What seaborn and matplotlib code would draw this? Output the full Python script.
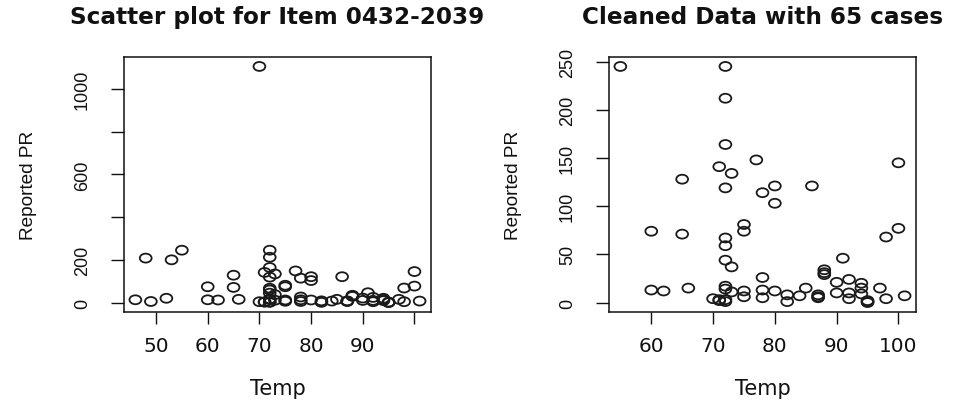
import numpy as np
import pandas as pd
import matplotlib
matplotlib.use("Agg")
import matplotlib.pyplot as plt
from matplotlib.path import Path
import seaborn as sns

# Cleaned cases (65 rows): temperature and reported PR
temp_clean = [55, 60, 60, 62, 65, 65, 66, 70, 71, 71, 71,
              72, 72, 72, 72, 72, 72, 72, 72, 72, 72, 72,
              73, 73, 73, 75, 75, 75, 75, 77, 78, 78, 78, 78,
              80, 80, 80, 82, 82, 84, 85, 86, 87, 87, 87, 88, 88, 88,
              90, 90, 91, 92, 92, 92, 94, 94, 94, 95, 95, 95,
              97, 98, 98, 100, 100, 101]
pr_clean = [245, 74, 13, 12, 128, 71, 15, 4, 3, 2, 141,
            245, 212, 164, 119, 67, 59, 44, 17, 14, 3, 1,
            134, 37, 11, 81, 74, 12, 6, 148, 114, 26, 13, 5,
            121, 103, 12, 8, 1, 7, 15, 121, 8, 6, 5, 34, 31, 29,
            21, 10, 46, 24, 10, 4, 20, 15, 9, 2, 1, 0,
            15, 68, 4, 145, 77, 7]

# Cases dropped during cleaning
temp_removed = [46, 48, 49, 52, 53, 70]
pr_removed = [13, 208, 5, 20, 200, 1105]

titles = ["Scatter plot for Item 0432-2039", "Cleaned Data with 65 cases"]
x_label = "Temp"
y_label = "Reported PR"

left_xticks = [50, 60, 70, 80, 90, 100]
left_xticklabels = ["50", "60", "70", "80", "90", ""]
left_yticks = [0, 200, 400, 600, 800, 1000]
left_yticklabels = ["0", "200", "", "600", "", "1000"]
right_xticks = [60, 70, 80, 90, 100]
right_xticklabels = ["60", "70", "80", "90", "100"]
right_yticks = [0, 50, 100, 150, 200, 250]
right_yticklabels = ["0", "50", "100", "150", "200", "250"]

full = pd.DataFrame({"Temp": temp_clean + temp_removed,
                     "PR": pr_clean + pr_removed})
clean = pd.DataFrame({"Temp": temp_clean, "PR": pr_clean})

sns.set_style("white")
plt.rcParams["font.family"] = ["DejaVu Sans"]

W, H = 954, 402
fig = plt.figure(figsize=(W / 100, H / 100), dpi=100)
fig.patch.set_facecolor("white")

# open ellipse marker (slightly wider than tall)
circ = Path.unit_circle()
ellipse = Path(circ.vertices * np.array([1.32, 1.0]), circ.codes)

INK = "#111111"


def pad_limits(values, frac=0.04):
    lo, hi = min(values), max(values)
    r = hi - lo
    return lo - frac * r, hi + frac * r


def panel(left_px, data, title, xticks, xticklabels, yticks, yticklabels):
    ax = fig.add_axes([left_px / W, (H - 313) / H, 307 / W, 255 / H])
    sns.scatterplot(data=data, x="Temp", y="PR", ax=ax, marker=ellipse,
                    s=72, color="black", facecolor="none",
                    edgecolor="#1a1a1a", linewidth=1.3, legend=False)
    ax.set_xlim(*pad_limits(data["Temp"]))
    ax.set_ylim(*pad_limits(data["PR"]))
    for sp in ax.spines.values():
        sp.set_visible(True)
        sp.set_color(INK)
        sp.set_linewidth(1.1)
    ax.set_xticks(xticks, xticklabels, fontsize=14.4, color=INK)
    ax.set_yticks(yticks, yticklabels, fontsize=13, rotation=90,
                  va="center", family=["Liberation Sans"], color=INK)
    ax.tick_params(axis="x", direction="out", length=8.6, width=1.0,
                   pad=8.5, colors=INK, bottom=True)
    ax.tick_params(axis="y", direction="out", length=9.7, width=1.0,
                   pad=14, colors=INK, left=True)
    ax.set_xlabel(x_label, fontsize=15, color=INK, va="center")
    ax.xaxis.set_label_coords(0.5, -0.298)
    ax.set_ylabel(y_label, fontsize=13.7, family=["Liberation Sans"],
                  color=INK, va="center")
    ax.yaxis.set_label_coords(-0.31, 0.5)
    ax.set_title(title, y=1.159, pad=0, va="center", fontsize=16.7,
                 fontweight="bold", color=INK)
    ax.grid(False)
    return ax


panel(124, full, titles[0], left_xticks, left_xticklabels,
      left_yticks, left_yticklabels)
panel(609, clean, titles[1], right_xticks, right_xticklabels,
      right_yticks, right_yticklabels)

fig.savefig("out.png", dpi=100, facecolor="white")
